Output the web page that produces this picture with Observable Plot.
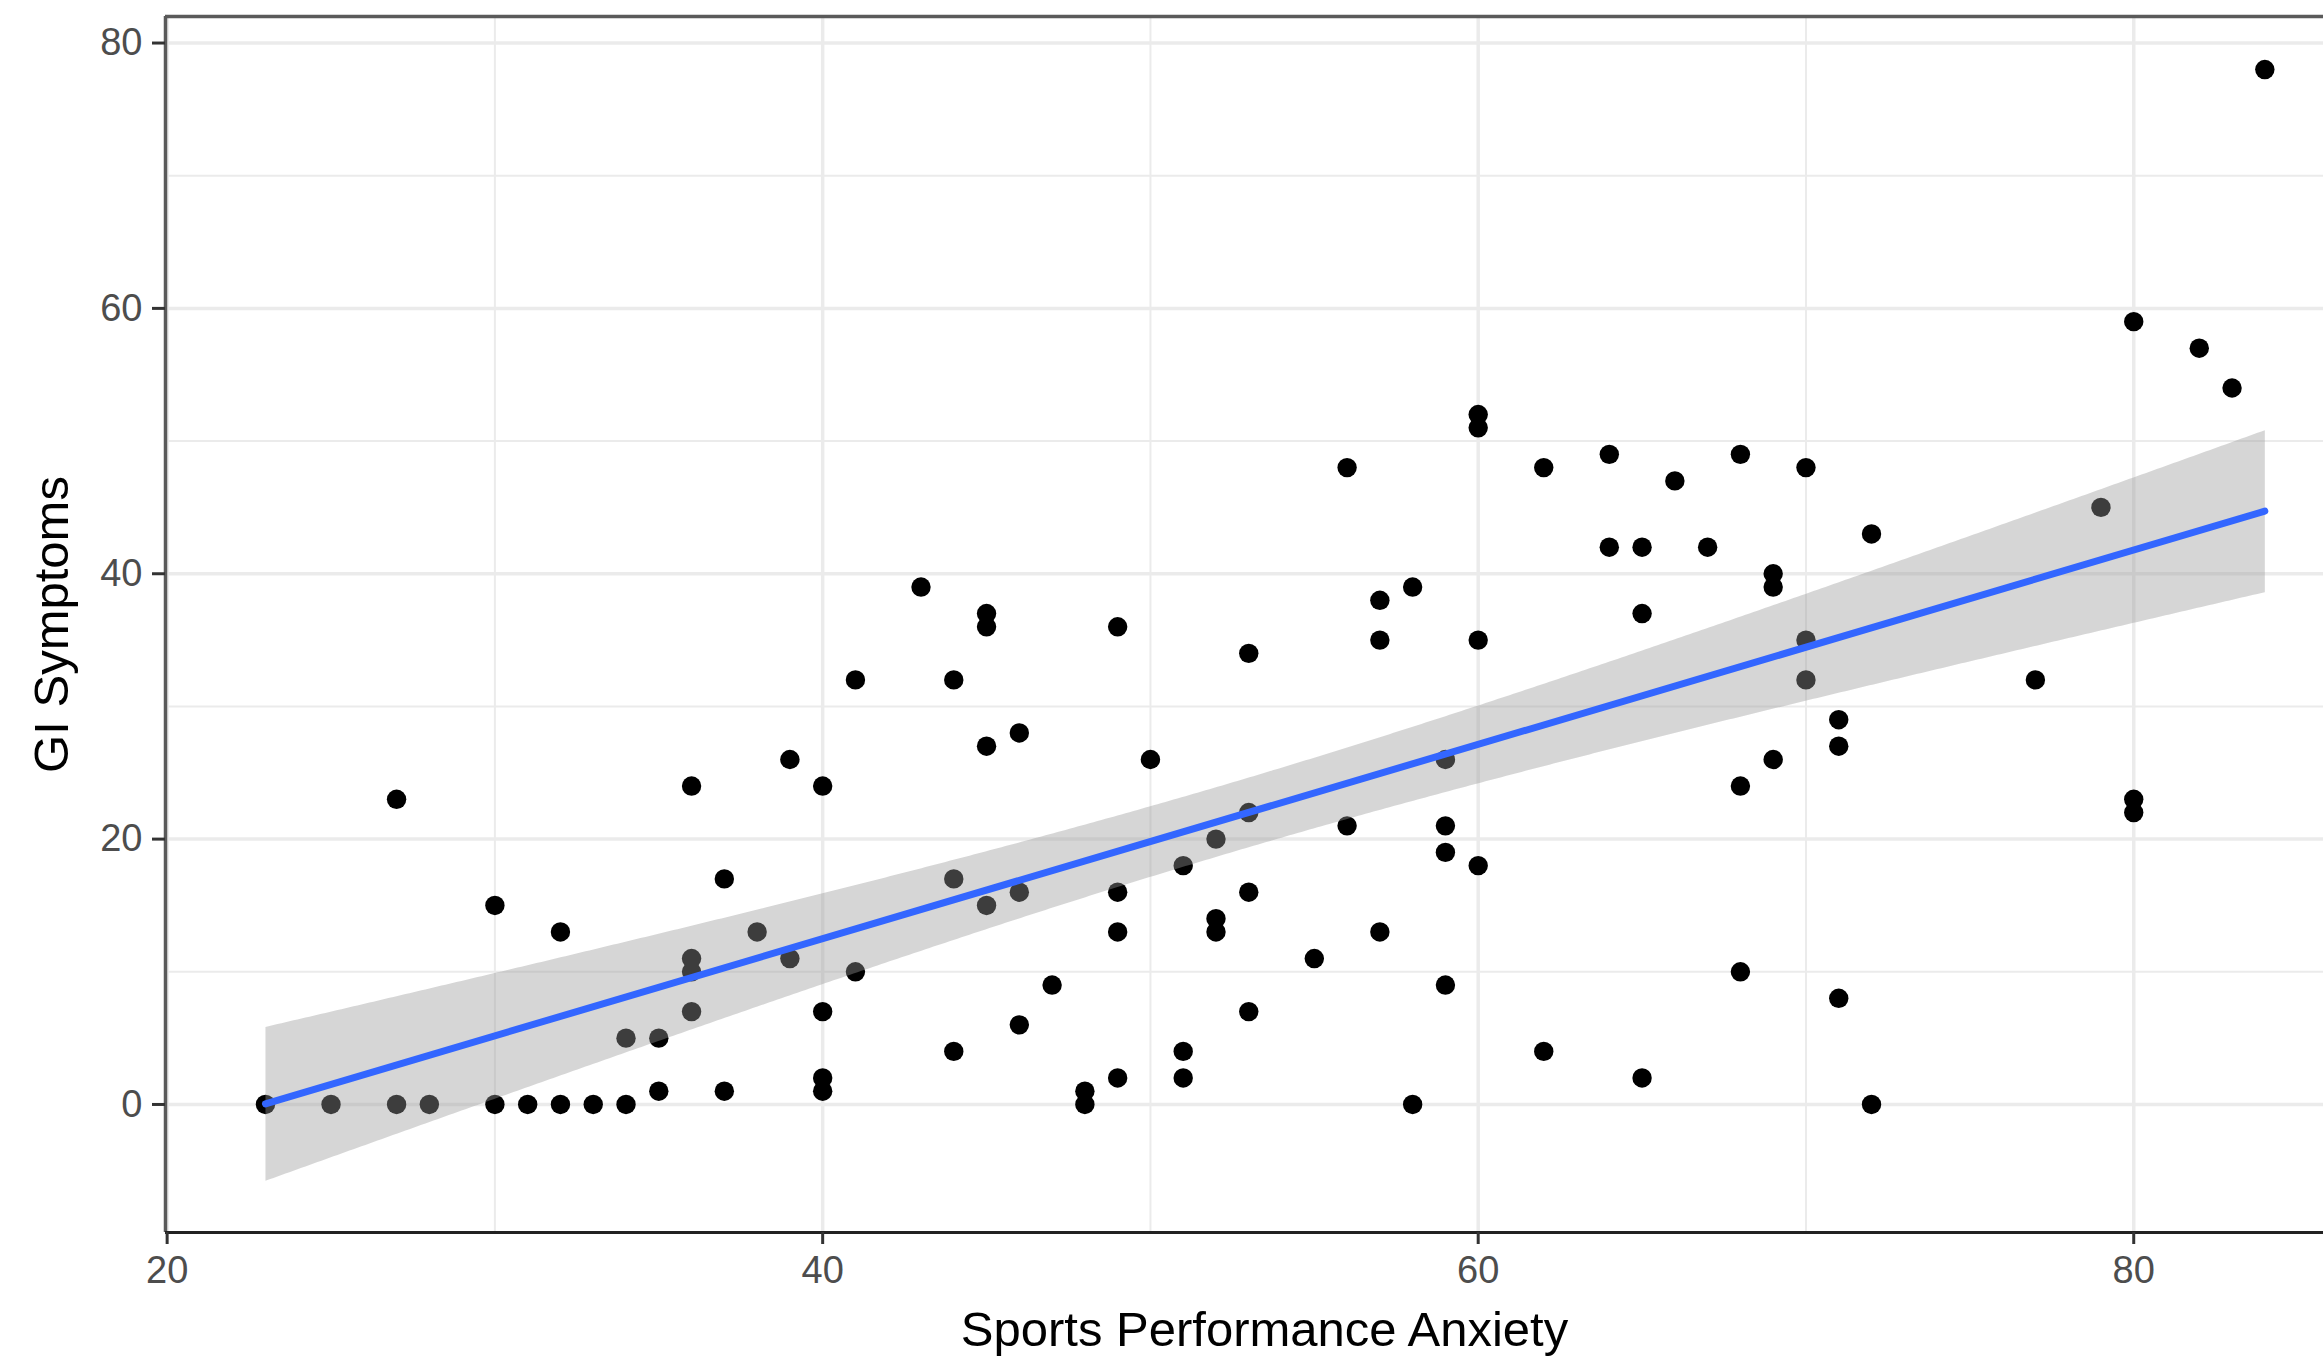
<!DOCTYPE html>
<html><head><meta charset="utf-8">
<script src="https://cdn.jsdelivr.net/npm/d3@7"></script>
<script src="https://cdn.jsdelivr.net/npm/@observablehq/plot@0.6"></script>
<style>
html,body{margin:0;padding:0;background:#fff;}
#chart svg{display:block;}
</style></head><body><div id="chart"></div>
<script>
// Sports Performance Anxiety (x) and GI Symptoms (y)
const anxiety = [
  23,25,27,27,28,30,30,31,32,32,33,34,34,35,35,36,36,36,36,37,37,38,39,39,40,40,40,40,41,41,
  43,44,44,44,45,45,45,45,46,46,46,47,48,48,49,49,49,49,50,51,51,51,52,52,52,53,53,53,53,55,
  56,56,57,57,57,58,58,59,59,59,59,60,60,60,60,62,62,64,64,65,65,65,66,67,68,68,68,69,69,69,
  70,70,70,71,71,71,72,72,77,79,80,80,80,82,83,84
];
const giSymptoms = [
  0,0,23,0,0,15,0,0,13,0,0,5,0,5,1,24,11,10,7,17,1,13,26,11,24,7,2,1,32,10,
  39,32,17,4,37,36,27,15,28,16,6,9,1,0,36,16,13,2,26,18,4,2,20,14,13,34,22,16,7,11,
  48,21,38,35,13,39,0,26,21,19,9,52,51,35,18,48,4,49,42,42,37,2,47,42,49,24,10,40,39,26,
  48,35,32,29,27,8,43,0,32,45,59,23,22,57,54,78
];
const xMajorTicks = [20, 40, 60, 80];
const xMinorTicks = [30, 50, 70];
const yMajorTicks = [0, 20, 40, 60, 80];
const yMinorTicks = [10, 30, 50, 70];
const xLabel = "Sports Performance Anxiety";
const yLabel = "GI Symptoms";

const data = anxiety.map((x, i) => ({x, y: giSymptoms[i]}));
const xDomain = [19.95, 85.79];
const yDomain = [-9.65, 82.0];
const font = "'Liberation Sans', Arial, Helvetica, sans-serif";

const chart = Plot.plot({
  width: 2323,
  height: 1356,
  marginLeft: 165,
  marginRight: 0,
  marginTop: 16,
  marginBottom: 124,
  style: {fontFamily: font, background: "#ffffff", overflow: "visible"},
  x: {domain: xDomain},
  y: {domain: yDomain},
  marks: [
    Plot.gridX(xMinorTicks, {stroke: "#EBEBEB", strokeOpacity: 1, strokeWidth: 2}),
    Plot.gridY(yMinorTicks, {stroke: "#EBEBEB", strokeOpacity: 1, strokeWidth: 2}),
    Plot.gridX(xMajorTicks, {stroke: "#EBEBEB", strokeOpacity: 1, strokeWidth: 3.5}),
    Plot.gridY(yMajorTicks, {stroke: "#EBEBEB", strokeOpacity: 1, strokeWidth: 3.5}),
    Plot.dot(data, {x: "x", y: "y", r: 9.7, fill: "#000000", stroke: "none"}),
    Plot.linearRegressionY(data, {
      x: "x", y: "y", ci: 0.95,
      stroke: "#3366FF", strokeWidth: 7,
      fill: "#999999", fillOpacity: 0.4
    }),
    Plot.ruleX([xDomain[0]], {stroke: "#5a5a5a", strokeWidth: 3.5}),
    Plot.ruleY([yDomain[1]], {stroke: "#5a5a5a", strokeWidth: 3.5}),
    Plot.ruleY([yDomain[0]], {stroke: "#222222", strokeWidth: 3}),
    Plot.axisX(xMajorTicks, {
      tickSize: 12, tickPadding: 12, fontSize: 38,
      fill: "#4D4D4D", stroke: "#333333", strokeWidth: 3, label: null
    }),
    Plot.axisY(yMajorTicks, {
      tickSize: 13, tickPadding: 10, fontSize: 38,
      fill: "#4D4D4D", stroke: "#333333", strokeWidth: 3, label: null
    }),
    Plot.text([xLabel], {
      text: d => d, frameAnchor: "bottom", dy: 113, dx: 20,
      lineAnchor: "bottom", textAnchor: "middle", fontSize: 49, fill: "#000000"
    }),
    Plot.text([yLabel], {
      text: d => d, frameAnchor: "left", dx: -98, rotate: -90,
      lineAnchor: "bottom", textAnchor: "middle", fontSize: 49, fill: "#000000"
    })
  ]
});
document.getElementById("chart").appendChild(chart);
</script>
</body></html>
